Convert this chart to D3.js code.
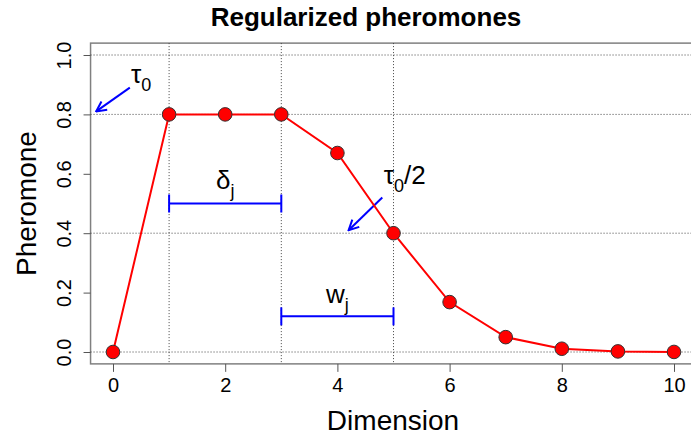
<!DOCTYPE html>
<html>
<head>
<meta charset="utf-8">
<script src="https://cdn.jsdelivr.net/npm/d3@7"></script>
<style>
  body { margin: 0; background: #fff; }
  text { font-family: "Liberation Sans", Arial, sans-serif; }
</style>
</head>
<body>
<div id="chart"></div>
<script>
// data
var dims = [0, 1, 2, 3, 4, 5, 6, 7, 8, 9, 10];
var pheromone = [0, 0.8, 0.8, 0.8, 0.67, 0.4, 0.168, 0.05, 0.011, 0.002, 0.0002];
var xTicks = [0, 2, 4, 6, 8, 10];
var yTicks = [0, 0.2, 0.4, 0.6, 0.8, 1.0];
var hGuides = [1.0, 0.8, 0.4, 0.0];
var vGuides = [1, 3, 5];
// blue arrows: [x0, y0, x1, y1]
var arrowsData = [[0.3, 0.89, -0.3, 0.81], [4.8, 0.52, 4.2, 0.41]];
// blue interval bars: [from, to, level]
var bars = [[1, 3, 0.5], [3, 5, 0.12]];
// labels: [x, y, main, sub, tail]
var notes = [
  [0.5, 0.905, "\u03C4", "0", ""],
  [2, 0.55, "\u03B4", "j", ""],
  [4, 0.165, "w", "j", ""],
  [5.2, 0.565, "\u03C4", "0", "/2"]
];

var W = 691, H = 437;
var svg = d3.select("#chart").append("svg")
    .attr("width", W)
    .attr("height", H);

var x = d3.scaleLinear().domain([0, 10]).range([113, 674]);
var y = d3.scaleLinear().domain([0, 1]).range([352, 55]);

// plot box (R style, 4% padding)
var bx0 = x(-0.4), bx1 = x(10.4), by0 = y(1.04), by1 = y(-0.04);
svg.append("rect")
    .attr("x", bx0).attr("y", by0)
    .attr("width", bx1 - bx0).attr("height", by1 - by0)
    .attr("fill", "none")
    .attr("stroke", "#808080")
    .attr("stroke-width", 1.5);

// dotted guides
svg.selectAll(".hg").data(hGuides).enter().append("line")
    .attr("x1", bx0).attr("x2", bx1)
    .attr("y1", d => y(d)).attr("y2", d => y(d))
    .attr("stroke", "#444").attr("stroke-width", 1)
    .attr("stroke-dasharray", "1,2");
svg.selectAll(".vg").data(vGuides).enter().append("line")
    .attr("x1", d => x(d)).attr("x2", d => x(d))
    .attr("y1", by0).attr("y2", by1)
    .attr("stroke", "#444").attr("stroke-width", 1)
    .attr("stroke-dasharray", "1,2");

// x axis
var xa = svg.append("g")
    .attr("transform", "translate(0," + by1 + ")")
    .call(d3.axisBottom(x).tickValues(xTicks).tickSize(8).tickPadding(6).tickFormat(d3.format("d")));
xa.select(".domain").remove();
xa.selectAll("line").attr("stroke", "#555");
xa.selectAll("text").attr("font-size", 20).attr("fill", "#000")
    .attr("font-family", "Liberation Sans, Arial, sans-serif");

// y axis
var ya = svg.append("g")
    .attr("transform", "translate(" + bx0 + ",0)")
    .call(d3.axisLeft(y).tickValues(yTicks).tickSize(7).tickFormat(d3.format(".1f")));
ya.select(".domain").remove();
ya.selectAll("line").attr("stroke", "#555");
ya.selectAll("text")
    .attr("font-size", 20).attr("fill", "#000")
    .attr("font-family", "Liberation Sans, Arial, sans-serif")
    .attr("text-anchor", "middle")
    .attr("x", 0).attr("dy", 0)
    .attr("transform", "translate(-20,0) rotate(-90)");

// titles
svg.append("text")
    .attr("x", 366).attr("y", 26)
    .attr("text-anchor", "middle")
    .attr("font-size", 26).attr("font-weight", "bold")
    .text("Regularized pheromones");
svg.append("text")
    .attr("x", 393).attr("y", 430)
    .attr("text-anchor", "middle")
    .attr("font-size", 28)
    .text("Dimension");
svg.append("text")
    .attr("transform", "translate(36," + y(0.5) + ") rotate(-90)")
    .attr("text-anchor", "middle")
    .attr("font-size", 28)
    .text("Pheromone");

// blue arrows
svg.append("defs").append("marker")
    .attr("id", "head")
    .attr("viewBox", "0 0 12 12")
    .attr("refX", 11).attr("refY", 6)
    .attr("markerWidth", 12).attr("markerHeight", 12)
    .attr("markerUnits", "userSpaceOnUse")
    .attr("orient", "auto")
    .append("path")
    .attr("d", "M1,1 L11,6 L1,11")
    .attr("fill", "none").attr("stroke", "#0000ff").attr("stroke-width", 2);

svg.selectAll(".arr").data(arrowsData).enter().append("line")
    .attr("x1", d => x(d[0])).attr("y1", d => y(d[1]))
    .attr("x2", d => x(d[2])).attr("y2", d => y(d[3]))
    .attr("stroke", "#0000ff").attr("stroke-width", 2)
    .attr("marker-end", "url(#head)");

// interval bars
bars.forEach(function (b) {
  var g = svg.append("g").attr("stroke", "#0000ff").attr("stroke-width", 2);
  g.append("line").attr("x1", x(b[0])).attr("x2", x(b[1])).attr("y1", y(b[2])).attr("y2", y(b[2]));
  [b[0], b[1]].forEach(function (e) {
    g.append("line").attr("x1", x(e)).attr("x2", x(e))
      .attr("y1", y(b[2]) - 9).attr("y2", y(b[2]) + 9);
  });
});

// labels with subscripts
notes.forEach(function (n) {
  var t = svg.append("text")
      .attr("x", x(n[0])).attr("y", y(n[1]))
      .attr("text-anchor", "middle")
      .attr("font-size", 26);
  t.append("tspan").text(n[2]);
  t.append("tspan").attr("font-size", 18).attr("dy", 8).text(n[3]);
  if (n[4]) t.append("tspan").attr("dy", -8).text(n[4]);
});

// series line and points
var line = d3.line().x((d, i) => x(dims[i])).y(d => y(d));
svg.append("path")
    .datum(pheromone)
    .attr("d", line)
    .attr("fill", "none")
    .attr("stroke", "#ff0000")
    .attr("stroke-width", 2);

svg.selectAll(".pt").data(pheromone).enter().append("circle")
    .attr("cx", (d, i) => x(dims[i]))
    .attr("cy", d => y(d))
    .attr("r", 6.8)
    .attr("fill", "#ff0000")
    .attr("stroke", "#333")
    .attr("stroke-width", 1);
</script>
</body>
</html>
